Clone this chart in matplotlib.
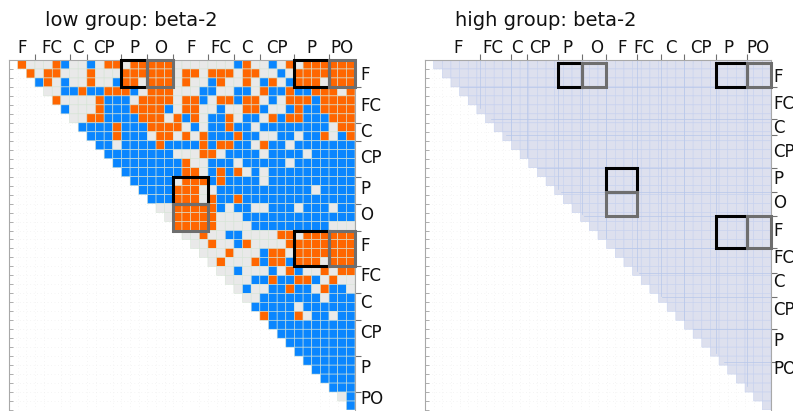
import numpy as np
import matplotlib
matplotlib.use("Agg")
import matplotlib.pyplot as plt
from matplotlib.colors import ListedColormap
from matplotlib.patches import Rectangle

# electrode regions along both axes of the connectivity matrix
regions = ["F", "FC", "C", "CP", "P", "O", "F", "FC", "C", "CP", "P", "PO"]
region_sizes = [3, 4, 2, 4, 3, 3, 4, 3, 3, 4, 4, 3]

# low group, beta-2: one string per row, columns r+1 .. 39
# o = increase, b = decrease, g = n.s.
low_rows = [
    "ogggobggb" "googooooog" "ggggggbogg" "bgogoooooo",
    "ogoogggo" "gggoooooog" "oogooogoog" "gbgooooooo",
    "bogbggo" "ggboogooog" "oggboggogb" "ogbooogooo",
    "ggbbob" "booobgooog" "ggbbggbbgo" "bbobbooogo",
    "ogggg" "obbbgoooog" "oobgooboog" "bgooob" "oooo",
    "bggg" "obbboooobg" "ooggbggoob" "ggbobboooo",
    "ggo" "obbbbooogo" "bogbbogbbg" "oboobbbooo",
    "bb" "bbobbboooo" "gbgbbobbgb" "bbbbbbbgoo",
    "b" "bbobbbgoog" "ogobbbobbg" "gbbgbbogbo",
    "bbgbbbbobb" "bboboobbgo" "bbgbbbbbbb",
    "bbbbbbbbg" "ggoogbbbbg" "bbbbgbbbbb",
    "bbbbbbbb" "oggbbbgbbb" "bbgbbbbbbb",
    "bbbbbbb" "oogbobogbg" "bbbbbbbbbb",
    "bbbbbg" "ooobobbbbg" "bbbbbbbbbb",
    "bbbbo" "ooggbbbbbb" "bbbbbgbbbb",
    "bbbo" "oogobbobbb" "bbbbbbbbbb",
    "ggo" "oooobgbbgg" "bbbgbbbgbb",
    "go" "oooogggbbb" "bbbbbbbbbb",
    "o" "ooooggggbb" "bbbbbbbggg",
    "ggoggbbggg" "googoooooo",
    "ggoggbogg" "ggoooooooo",
    "gggogggb" "oogooooooo",
    "gogggob" "oobooogooo",
    "ggbggg" "bgobggogoo",
    "gggbb" "obboobgogg",
    "gbgg" "bbobbgobbg",
    "ggb" "bbbbbbgbbb",
    "bb" "bbbgbbbbbb",
    "o" "bbbogbbgbb",
    "bbbbbbbbbb",
    "bbbbbbbbb",
    "bbbbbbbb",
    "bbbbbbb",
    "bbbbbb",
    "bbbbb",
    "bbbb",
    "bbb",
    "gb",
    "b",
]

# high group, beta-2: no pair differs
high_state = "g"

# outlined blocks: (row region, column region, edge colour)
highlights = [
    (0, 4, "#000000"), (0, 5, "#6e6e6e"),
    (0, 10, "#000000"), (0, 11, "#6e6e6e"),
    (4, 6, "#000000"), (5, 6, "#6e6e6e"),
    (6, 10, "#000000"), (6, 11, "#6e6e6e"),
]

state_code = {"g": 0, "o": 1, "b": 2}
low_colors = ["#e9e9e9", "#ff6600", "#0a86ff"]
high_colors = ["#dde0ee"]

bounds = np.concatenate([[0], np.cumsum(region_sizes)])
centers = (bounds[:-1] + bounds[1:]) / 2
n_cols = int(bounds[-1])
n_rows = len(low_rows)

low = np.full((n_rows, n_cols), np.nan)
for r, body in enumerate(low_rows):
    assert len(body) == n_cols - r - 1, (r, len(body))
    low[r, r + 1:] = [state_code[c] for c in body]
high = np.where(np.isnan(low), np.nan, state_code[high_state])


def as_float(v):
    return np.asarray(v, dtype=float)


# label / outline placement for each panel (the high panel is labelled
# on a slightly wider channel scale)
high_top_labels = [3.8, 7.8, 10.6, 13.3, 16.5, 19.8, 22.8, 25.3, 28.4,
                   31.9, 35.1, 38.5]
low_place = {
    "x_label": as_float(centers),
    "y_label": as_float(centers) * n_rows / n_cols,
    "x": as_float,
    "y": as_float,
    "pad": 4,
}
high_place = {
    "x_label": as_float(high_top_labels),
    "y_label": 0.3 + 0.88 * as_float(centers),
    "x": lambda v: 3.6 + 0.91 * as_float(v),
    "y": lambda v: 0.3 + 0.9 * as_float(v),
    "pad": 1.5,
}


def draw_panel(ax, values, colors, edge, place, region_lines=None):
    fx, fy = place["x"], place["y"]
    ax.pcolor(np.arange(n_cols + 1), np.arange(n_rows + 1),
              np.ma.masked_invalid(values), cmap=ListedColormap(colors),
              vmin=-0.5, vmax=len(colors) - 0.5,
              edgecolors=edge, linewidth=0.4)
    ax.set_xlim(0, n_cols)
    ax.set_ylim(n_rows, 0)
    ax.set_axisbelow(True)

    # slightly stronger guides along region borders, kept inside the triangle
    if region_lines is not None:
        for b in bounds[1:-1]:
            xv = float(fx(b))
            ax.plot([xv, xv], [0, min(xv - 1, n_rows)], color=region_lines,
                    lw=0.5, zorder=2)
            yv = float(fy(b))
            ax.plot([yv + 1, n_cols], [yv, yv], color=region_lines,
                    lw=0.5, zorder=2)

    # region labels on top and right
    ax.set_xticks(place["x_label"])
    ax.set_xticklabels(regions)
    ax.set_yticks(place["y_label"])
    ax.set_yticklabels(regions)
    ax.xaxis.tick_top()
    ax.yaxis.tick_right()
    ax.tick_params(which="major", length=0, labelsize=12, colors="#111111")
    ax.tick_params(axis="x", which="major", pad=2)
    ax.tick_params(axis="y", which="major", pad=place["pad"])

    # one small tick per channel, faint dotted guides under the matrix
    ax.set_xticks(np.arange(n_cols + 1), minor=True)
    ax.set_yticks(np.arange(n_rows + 1), minor=True)
    ax.tick_params(axis="x", which="minor", top=True, bottom=False,
                   direction="in", length=2.5, color="#b0b0b0")
    ax.tick_params(axis="y", which="minor", left=True, right=False,
                   direction="in", length=3, color="#a0a0a0")
    ax.grid(which="minor", color="#ececec", lw=0.5, ls=(0, (1, 4)))
    ax.grid(which="major", visible=False)

    # region boundary marks
    top = ax.secondary_xaxis("top")
    top.set_xticks(fx(bounds[1:-1]))
    top.set_xticklabels([])
    top.tick_params(length=4, color="#707070", width=0.8)
    top.spines["top"].set_visible(False)
    side = ax.secondary_yaxis("right")
    side.set_yticks(fy(bounds[1:-1]))
    side.set_yticklabels([])
    side.tick_params(length=4, color="#707070", width=0.8)
    side.spines["right"].set_visible(False)

    for name in ["left", "top", "right"]:
        ax.spines[name].set_color("#a8a8a8")
        ax.spines[name].set_linewidth(0.8)
    ax.spines["bottom"].set_visible(False)

    for ri, ci, col in highlights:
        x0, x1 = fx(bounds[ci]), fx(bounds[ci + 1])
        y0, y1 = fy(bounds[ri]), fy(bounds[ri + 1])
        ax.add_patch(Rectangle((x0, y0), x1 - x0, y1 - y0, fill=False,
                               edgecolor=col, linewidth=2.2, zorder=5,
                               clip_on=False))


W, H = 793, 411
fig = plt.figure(figsize=(W / 100, H / 100), dpi=100)
ax_low = fig.add_axes([9 / W, 1 / H, 346 / W, 350 / H])
ax_high = fig.add_axes([425 / W, 1 / H, 346 / W, 350 / H])

draw_panel(ax_low, low, low_colors, "#d6e4d6", low_place)
draw_panel(ax_high, high, high_colors, "#c6d1ee", high_place,
           region_lines="#b7c7ea")

fig.text(45 / W, 1 - 20 / H, "low group: beta-2", fontsize=14,
         ha="left", va="center", color="#111111")
fig.text(455 / W, 1 - 20 / H, "high group: beta-2", fontsize=14,
         ha="left", va="center", color="#111111")

fig.savefig("out.png", dpi=100)
